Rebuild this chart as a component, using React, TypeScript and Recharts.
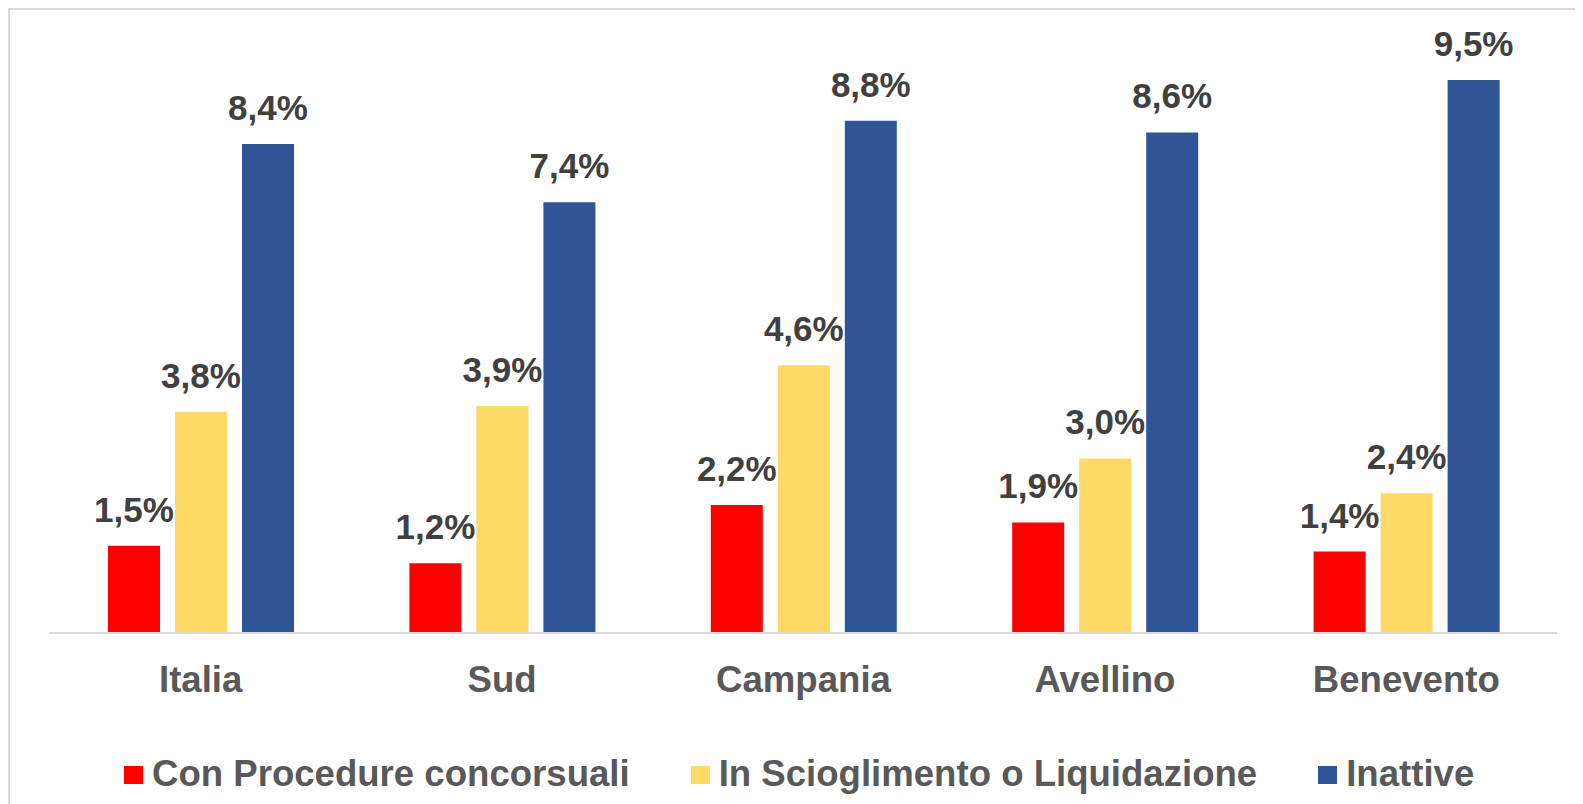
import React from 'react';
import { BarChart, Bar, XAxis, YAxis, Legend, LabelList } from 'recharts';

const categories = ['Italia', 'Sud', 'Campania', 'Avellino', 'Benevento'];
const conProcedure = [1.5, 1.2, 2.2, 1.9, 1.4];
const inScioglimento = [3.8, 3.9, 4.6, 3.0, 2.4];
const inattive = [8.4, 7.4, 8.8, 8.6, 9.5];
const seriesNames = ['Con Procedure concorsuali', 'In Scioglimento o Liquidazione', 'Inattive'];
const seriesColors = ['#FF0000', '#FFD966', '#2F5597'];

const data = categories.map((c, i) => ({
  name: c,
  a: conProcedure[i],
  b: inScioglimento[i],
  c: inattive[i],
}));

const FONT = '"Liberation Sans", Arial, sans-serif';

const fmt = (v: any) => `${Number(v).toFixed(1).replace('.', ',')}%`;

const Tick = (props: any) => {
  const { x, y, payload } = props;
  return (
    <text
      x={x}
      y={y}
      dy={59}
      textAnchor="middle"
      fontFamily={FONT}
      fontWeight="bold"
      fontSize={36.6}
      fill="#595959"
    >
      {payload.value}
    </text>
  );
};

const renderLegend = () => (
  <div
    style={{
      height: 60,
      display: 'flex',
      alignItems: 'center',
      paddingLeft: 74,
      fontFamily: FONT,
      fontWeight: 'bold',
      fontSize: 36.6,
      color: '#595959',
      boxSizing: 'border-box',
    }}
  >
    {seriesNames.map((n, i) => (
      <div key={n} style={{ display: 'flex', alignItems: 'center', marginRight: i < 2 ? 61 : 0 }}>
        <span style={{ display: 'inline-block', width: 19, height: 18, background: seriesColors[i], marginRight: 9, marginTop: 2 }} />
        <span style={{ whiteSpace: 'nowrap', lineHeight: '40px' }}>{n}</span>
      </div>
    ))}
  </div>
);

const labelStyle = { fontFamily: FONT, fontWeight: 'bold' as const, fontSize: 35, fill: '#404040' };

export default function App() {
  return (
    <div
      style={{
        width: 1575,
        height: 796,
        borderTop: '2px solid #d9d9d9',
        borderLeft: '2px solid #d9d9d9',
        boxSizing: 'border-box',
        overflow: 'hidden',
        background: '#fff',
      }}
    >
      <BarChart
        width={1573}
        height={794}
        data={data}
        margin={{ top: 41, right: 26, left: 40, bottom: 0 }}
        barSize={52}
        barGap={15}
      >
        <XAxis
          dataKey="name"
          height={111}
          axisLine={{ stroke: '#d9d9d9', strokeWidth: 2 }}
          tickLine={false}
          tickSize={0}
          tickMargin={0}
          tick={<Tick />}
          interval={0}
        />
        <YAxis hide domain={[0, 10]} />
        <Legend verticalAlign="bottom" height={60} content={renderLegend} />
        <Bar dataKey="a" name={seriesNames[0]} fill={seriesColors[0]} isAnimationActive={false}>
          <LabelList dataKey="a" position="top" offset={24} formatter={fmt} style={labelStyle} />
        </Bar>
        <Bar dataKey="b" name={seriesNames[1]} fill={seriesColors[1]} isAnimationActive={false}>
          <LabelList dataKey="b" position="top" offset={24} formatter={fmt} style={labelStyle} />
        </Bar>
        <Bar dataKey="c" name={seriesNames[2]} fill={seriesColors[2]} isAnimationActive={false}>
          <LabelList dataKey="c" position="top" offset={24} formatter={fmt} style={labelStyle} />
        </Bar>
      </BarChart>
    </div>
  );
}
